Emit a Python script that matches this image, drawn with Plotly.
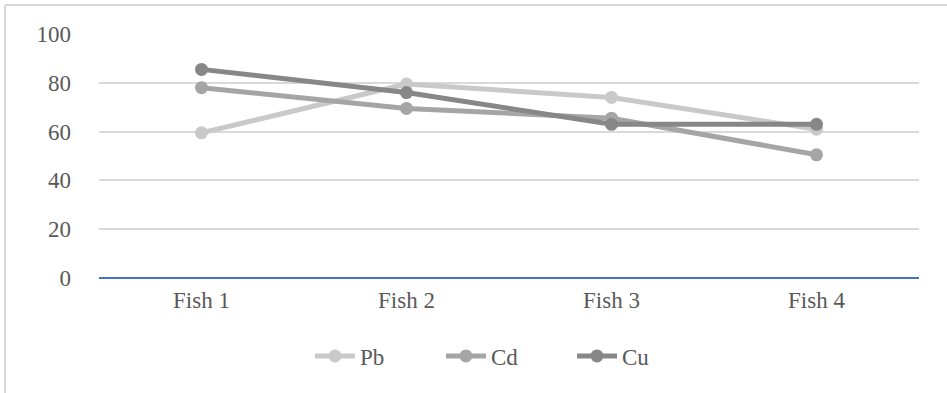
import plotly.graph_objects as go

categories = ["Fish 1", "Fish 2", "Fish 3", "Fish 4"]
pb = [59.5, 79.5, 74, 61]
cd = [78, 69.5, 65.5, 50.5]
cu = [85.5, 76, 63, 63]
series_names = ["Pb", "Cd", "Cu"]
colors = ["#c9c9c9", "#a5a5a5", "#878787"]
y_ticks = [0, 20, 40, 60, 80, 100]

W, H = 947, 393
L, R, T, B = 99, 28, 34, 115
pw, ph = W - L - R, H - T - B

fig = go.Figure()
for name, vals, col in zip(series_names, [pb, cd, cu], colors):
    fig.add_trace(go.Scatter(
        x=categories, y=vals, name=name, mode="lines+markers",
        line=dict(color=col, width=5),
        marker=dict(color=col, size=13),
    ))

def px_x(x):
    return (x - L) / pw

def px_y(y):
    return (H - B - y) / ph

FONT = "Liberation Serif, Times New Roman, serif"
fig.update_layout(
    width=W, height=H,
    margin=dict(l=L, r=R, t=T, b=B, autoexpand=False),
    plot_bgcolor="white", paper_bgcolor="white",
    font=dict(family=FONT, size=23, color="#595959"),
    xaxis=dict(range=[-0.5, 3.5], showgrid=False, showline=False, zeroline=False, ticks="",
               ticklabelstandoff=6, automargin=False,
               tickfont=dict(family=FONT, size=23, color="#595959")),
    yaxis=dict(range=[0, 100], tickvals=y_ticks, showgrid=True, gridcolor="#d9d9d9",
               gridwidth=2, zeroline=True, zerolinecolor="#4472c4", zerolinewidth=2,
               showline=False, ticks="",
               ticklabelstandoff=27, automargin=False,
               tickfont=dict(family=FONT, size=23, color="#595959")),
    legend=dict(orientation="h", x=px_x(310), xanchor="left", y=px_y(356), yanchor="middle",
                font=dict(family=FONT, size=23, color="#595959"), tracegroupgap=0,
                entrywidth=76, entrywidthmode="pixels", itemwidth=40),
    shapes=[
        dict(type="line", xref="paper", yref="paper", x0=px_x(5), x1=px_x(5),
             y0=px_y(5), y1=px_y(400), line=dict(color="#d9d9d9", width=2)),
        dict(type="line", xref="paper", yref="paper", x0=px_x(5), x1=px_x(950),
             y0=px_y(5), y1=px_y(5), line=dict(color="#d9d9d9", width=2)),
    ],
    showlegend=True,
)

fig.write_html("out.html", config={"displayModeBar": False},
               post_script="document.body.style.margin='0';document.body.style.overflow='hidden';")
